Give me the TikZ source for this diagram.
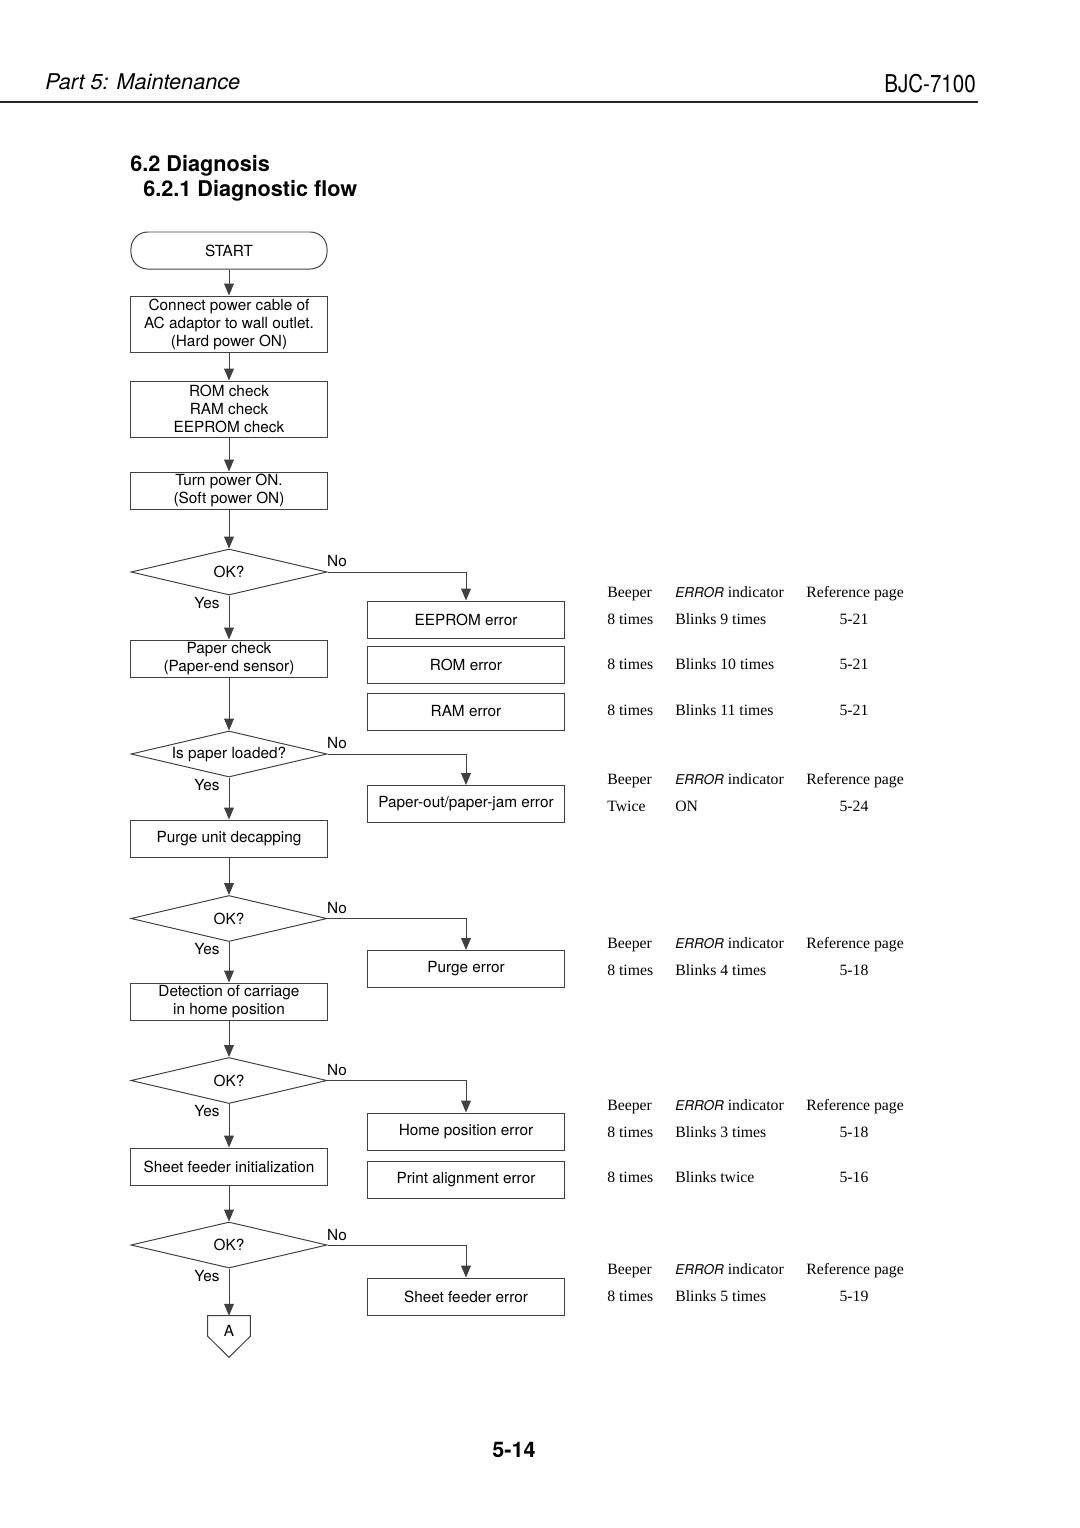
\documentclass[tikz,border=0pt]{standalone}
\usepackage{graphicx}
\usepackage{fontspec}
\setmainfont{Liberation Serif}
\setsansfont{TeX Gyre Heros}
\usetikzlibrary{positioning,shapes.geometric,arrows.meta}
\newcommand{\flowfont}{\sffamily\fontsize{10.9}{12.8}\selectfont}
\newcommand{\tablefont}{\rmfamily\fontsize{11.2}{13}\selectfont}
\newcommand{\errword}{{\sffamily\itshape\fontsize{9.6}{10}\selectfont ERROR}}
\tikzset{box/.style = {rectangle,draw=black!75,line width=0.7pt,minimum width=4.9cm,minimum height=0.925cm,inner sep=0pt,align=center,font=\flowfont},
         tallbox/.style = {box,minimum height=1.4cm},
         decision/.style = {diamond,draw=black!75,line width=0.7pt,aspect=4.26,minimum width=4.9cm,minimum height=1.15cm,inner sep=0pt,font=\flowfont},
         arr/.style = {-{Triangle[length=8.5pt,width=7pt]},draw=black!75,line width=0.7pt},
         lbl/.style = {font=\flowfont,inner sep=0pt},
         tbl/.style = {font=\tablefont,anchor=west,inner sep=0pt,text height=7.5pt,text depth=2.5pt,yshift=-0.05cm},
         pg/.style = {font=\tablefont,inner sep=0pt,text height=7.5pt,text depth=2.5pt,yshift=-0.05cm}}

\begin{document}
\begin{tikzpicture}[x=0.025cm,y=-0.025cm]
        \useasboundingbox (0,0) rectangle (1080,1528);
        % page head
        \node[anchor=west,inner sep=0pt,font=\sffamily\itshape\fontsize{15.4}{18}\selectfont] (part) at (45,82) {Part 5: Maintenance};
        \node[anchor=east,inner sep=0pt,font=\sffamily\fontsize{17.4}{20}\selectfont] (model) at (976,84) {\scalebox{0.84}[1]{BJC-7100}};
        \draw[line width=1.3pt,black!85] (0,102) -- (978,102);
        \node[anchor=west,inner sep=0pt,font=\sffamily\bfseries\fontsize{15.4}{18}\selectfont] (sec) at (130,166) {6.2 Diagnosis};
        \node[anchor=west,inner sep=0pt,font=\sffamily\bfseries\fontsize{15.4}{18}\selectfont] (subsec) at (143,191) {6.2.1 Diagnostic flow};

        % main flow
        \node[box,rounded corners=0.42cm] (start) at (229,250.5) {START};
        \node[tallbox] (hardon) at (229,324) {Connect power cable of\\AC adaptor to wall outlet.\\(Hard power ON)};
        \node[tallbox] (memchk) at (229,409) {ROM check\\RAM check\\EEPROM check};
        \node[box] (softon) at (229,490.5) {Turn power ON.\\(Soft power ON)};
        \node[decision] (ok1) at (229,572) {OK?};
        \node[box] (paper) at (229,658.5) {Paper check\\(Paper-end sensor)};
        \node[decision] (loaded) at (229,754) {Is paper loaded?};
        \node[box] (decap) at (229,838.5) {Purge unit decapping};
        \node[decision] (ok2) at (229,918.5) {OK?};
        \node[box] (homedet) at (229,1001.5) {Detection of carriage\\in home position};
        \node[decision] (ok3) at (229,1080.5) {OK?};
        \node[box] (sfinit) at (229,1166.5) {Sheet feeder initialization};
        \node[decision] (ok4) at (229,1245) {OK?};
        \node[rectangle,inner sep=0pt,minimum width=1.05cm,minimum height=0.75cm,font=\flowfont] (conA) at (229,1331) {A};
        \draw[draw=black!75,line width=0.7pt] (conA.north west) -- (conA.north east) -- ([yshift=0.25cm]conA.south east)
            -- ([yshift=-0.275cm]conA.south) -- ([yshift=0.25cm]conA.south west) -- cycle;

        % error boxes
        \node[box] (eeprom) at (466,619.5) {EEPROM error};
        \node[box] (romerr) at (466,664.5) {ROM error};
        \node[box] (ramerr) at (466,711.5) {RAM error};
        \node[box] (paperr) at (466,804) {Paper-out/paper-jam error};
        \node[box] (purgerr) at (466,969) {Purge error};
        \node[box] (homerr) at (466,1131.5) {Home position error};
        \node[box] (alignerr) at (466,1179.5) {Print alignment error};
        \node[box] (sferr) at (466,1296.5) {Sheet feeder error};

        % arrows
        \draw[arr] (start) -- (hardon);
        \draw[arr] (hardon) -- (memchk);
        \draw[arr] (memchk) -- (softon);
        \draw[arr] (softon) -- (ok1);
        \draw[arr] (ok1.south) -- (paper);
        \draw[arr] (paper) -- (loaded);
        \draw[arr] (loaded.south) -- (decap);
        \draw[arr] (decap) -- (ok2);
        \draw[arr] (ok2.south) -- (homedet);
        \draw[arr] (homedet) -- (ok3);
        \draw[arr] (ok3.south) -- (sfinit);
        \draw[arr] (sfinit) -- (ok4);
        \draw[arr] (ok4.south) -- (conA.north);
        \draw[arr] (ok1.east) -| (eeprom.north);
        \draw[arr] (loaded.east) -| (paperr.north);
        \draw[arr] (ok2.east) -| (purgerr.north);
        \draw[arr] (ok3.east) -| (homerr.north);
        \draw[arr] (ok4.east) -| (sferr.north);

        % yes / no
        \node[lbl] (no1) at (337,561) {No};
        \node[lbl] (yes1) at (207,603) {Yes};
        \node[lbl] (no2) at (337,743) {No};
        \node[lbl] (yes2) at (207,785) {Yes};
        \node[lbl] (no3) at (337,908) {No};
        \node[lbl] (yes3) at (207,949) {Yes};
        \node[lbl] (no4) at (337,1070) {No};
        \node[lbl] (yes4) at (207,1111) {Yes};
        \node[lbl] (no5) at (337,1235) {No};
        \node[lbl] (yes5) at (207,1276) {Yes};

        % table: memory errors
        \node[tbl] (bpA) at (607,592) {Beeper};
        \node[tbl] (indA) at (675,592) {\errword{} indicator};
        \node[tbl] (refA) at (806,592) {Reference page};
        \node[tbl] (bpA1) at (607,619) {8 times};
        \node[tbl] (indA1) at (675,619) {Blinks 9 times};
        \node[pg] (refA1) at (854,619) {5-21};
        \node[tbl] (bpA2) at (607,664) {8 times};
        \node[tbl] (indA2) at (675,664) {Blinks 10 times};
        \node[pg] (refA2) at (854,664) {5-21};
        \node[tbl] (bpA3) at (607,710) {8 times};
        \node[tbl] (indA3) at (675,710) {Blinks 11 times};
        \node[pg] (refA3) at (854,710) {5-21};

        % table: paper
        \node[tbl] (bpB) at (607,779) {Beeper};
        \node[tbl] (indB) at (675,779) {\errword{} indicator};
        \node[tbl] (refB) at (806,779) {Reference page};
        \node[tbl] (bpB1) at (607,806) {Twice};
        \node[tbl] (indB1) at (675,806) {ON};
        \node[pg] (refB1) at (854,806) {5-24};

        % table: purge
        \node[tbl] (bpC) at (607,943) {Beeper};
        \node[tbl] (indC) at (675,943) {\errword{} indicator};
        \node[tbl] (refC) at (806,943) {Reference page};
        \node[tbl] (bpC1) at (607,970) {8 times};
        \node[tbl] (indC1) at (675,970) {Blinks 4 times};
        \node[pg] (refC1) at (854,970) {5-18};

        % table: carriage
        \node[tbl] (bpD) at (607,1105) {Beeper};
        \node[tbl] (indD) at (675,1105) {\errword{} indicator};
        \node[tbl] (refD) at (806,1105) {Reference page};
        \node[tbl] (bpD1) at (607,1132) {8 times};
        \node[tbl] (indD1) at (675,1132) {Blinks 3 times};
        \node[pg] (refD1) at (854,1132) {5-18};
        \node[tbl] (bpD2) at (607,1177) {8 times};
        \node[tbl] (indD2) at (675,1177) {Blinks twice};
        \node[pg] (refD2) at (854,1177) {5-16};

        % table: sheet feeder
        \node[tbl] (bpE) at (607,1269) {Beeper};
        \node[tbl] (indE) at (675,1269) {\errword{} indicator};
        \node[tbl] (refE) at (806,1269) {Reference page};
        \node[tbl] (bpE1) at (607,1296) {8 times};
        \node[tbl] (indE1) at (675,1296) {Blinks 5 times};
        \node[pg] (refE1) at (854,1296) {5-19};

        % page number
        \node[inner sep=0pt,font=\sffamily\bfseries\fontsize{15.3}{18}\selectfont] (pageno) at (514,1450) {5-14};
\end{tikzpicture}
\end{document}
